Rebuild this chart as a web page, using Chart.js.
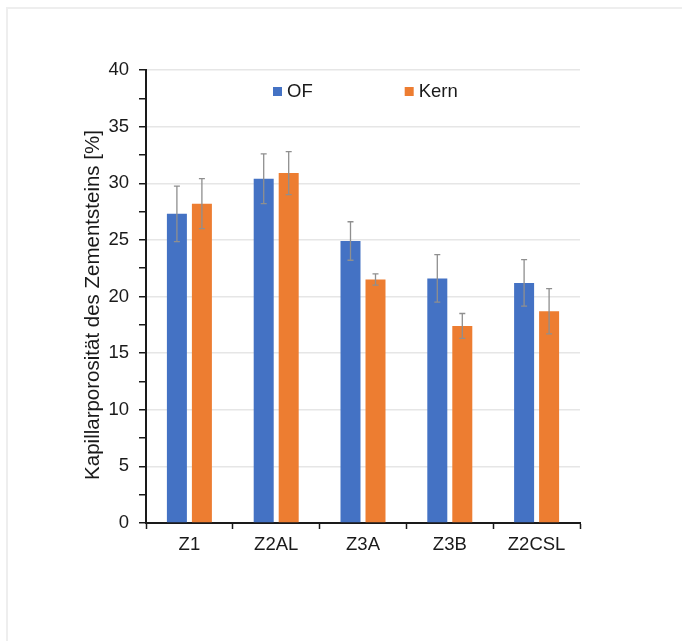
<!DOCTYPE html>
<html>
<head>
<meta charset="utf-8">
<script src="https://cdn.jsdelivr.net/npm/chart.js@4/dist/chart.umd.min.js"></script>
<style>
  html, body { margin: 0; padding: 0; background: #fff; overflow: hidden; }
  #frame { position: absolute; left: 6px; top: 7px; width: 720px; height: 700px;
           border-left: 2px solid #eeeeee; border-top: 2px solid #eeeeee; }
  #c { position: absolute; left: 0; top: 0; }
</style>
</head>
<body>
<div id="frame"></div>
<canvas id="c" width="682" height="641"></canvas>
<script>
const categories = ['Z1', 'Z2AL', 'Z3A', 'Z3B', 'Z2CSL'];
const seriesNames = ['OF', 'Kern'];
const valuesOF   = [27.3, 30.4, 24.9, 21.6, 21.2];
const errorsOF   = [2.45, 2.2, 1.7, 2.1, 2.05];
const valuesKern = [28.2, 30.9, 21.5, 17.4, 18.7];
const errorsKern = [2.2, 1.9, 0.5, 1.1, 2.0];
const yTitle = 'Kapillarporosität des Zementsteins [%]';
const yMin = 0, yMax = 40, yMinorStep = 2.5, yLabelStep = 5;

const FONT = "'Liberation Sans', Arial, sans-serif";

const errorBarPlugin = {
  id: 'errorBars',
  afterDatasetsDraw(chart) {
    const ctx = chart.ctx;
    const yScale = chart.scales.y;
    chart.data.datasets.forEach((ds, di) => {
      const meta = chart.getDatasetMeta(di);
      meta.data.forEach((bar, i) => {
        const v = ds.data[i], e = ds.errors[i];
        const yt = yScale.getPixelForValue(v + e);
        const yb = yScale.getPixelForValue(v - e);
        ctx.save();
        ctx.strokeStyle = '#8f8f8f';
        ctx.lineWidth = 1.3;
        ctx.beginPath();
        ctx.moveTo(bar.x, yt); ctx.lineTo(bar.x, yb);
        ctx.moveTo(bar.x - 3, yt); ctx.lineTo(bar.x + 3, yt);
        ctx.moveTo(bar.x - 3, yb); ctx.lineTo(bar.x + 3, yb);
        ctx.stroke();
        ctx.restore();
      });
    });
  }
};

const legendPlugin = {
  id: 'innerLegend',
  afterDraw(chart) {
    const ctx = chart.ctx;
    const area = chart.chartArea;
    let x = area.left + 127;
    const y = area.top + 21.5;
    ctx.save();
    ctx.font = '18.5px ' + FONT;
    ctx.textBaseline = 'middle';
    ctx.textAlign = 'left';
    chart.data.datasets.forEach((ds) => {
      ctx.fillStyle = ds.backgroundColor;
      ctx.fillRect(x, y - 4.5, 9, 9);
      ctx.fillStyle = '#1a1a1a';
      ctx.fillText(ds.label, x + 14, y + 0.5);
      x += 14 + ctx.measureText(ds.label).width + 92;
    });
    ctx.restore();
  }
};

const yTitlePlugin = {
  id: 'yTitle',
  afterDraw(chart) {
    const ctx = chart.ctx;
    const area = chart.chartArea;
    ctx.save();
    ctx.translate(93, (area.top + area.bottom) / 2 + 8.5);
    ctx.rotate(-Math.PI / 2);
    ctx.font = '20.5px ' + FONT;
    ctx.fillStyle = '#1a1a1a';
    ctx.textAlign = 'center';
    ctx.textBaseline = 'middle';
    ctx.fillText(yTitle, 0, 0);
    ctx.restore();
  }
};

new Chart(document.getElementById('c'), {
  type: 'bar',
  data: {
    labels: categories,
    datasets: [
      { label: seriesNames[0], data: valuesOF, errors: errorsOF, backgroundColor: '#4472C4',
        categoryPercentage: 0.576, barPercentage: 0.8 },
      { label: seriesNames[1], data: valuesKern, errors: errorsKern, backgroundColor: '#ED7D31',
        categoryPercentage: 0.576, barPercentage: 0.8 }
    ]
  },
  options: {
    responsive: false,
    animation: false,
    devicePixelRatio: 1,
    layout: { padding: { left: 0, top: 70, right: 102, bottom: 0 } },
    plugins: { legend: { display: false }, tooltip: { enabled: false } },
    scales: {
      x: {
        afterFit(s) { s.height = 118; },
        grid: { offset: true, drawOnChartArea: false, tickColor: '#1a1a1a', tickLength: 6, tickWidth: 1.5 },
        border: { color: '#1a1a1a', width: 2 },
        ticks: { color: '#1a1a1a', padding: 5, font: { family: FONT, size: 18.5 } }
      },
      y: {
        min: yMin, max: yMax,
        afterFit(s) { s.width = 146; },
        ticks: {
          stepSize: yMinorStep,
          color: '#1a1a1a',
          padding: 10,
          font: { family: FONT, size: 18.5 },
          callback: (v) => (Math.abs(v % yLabelStep) < 1e-9 ? v : '')
        },
        grid: {
          color: (c) => (c.tick && Math.abs(c.tick.value % yLabelStep) < 1e-9 && c.tick.value !== 0 ? '#e6e6e6' : 'rgba(0,0,0,0)'),
          lineWidth: 1.5,
          tickColor: '#1a1a1a',
          tickLength: 7,
          tickWidth: 1.5
        },
        border: { color: '#1a1a1a', width: 2 },
        title: { display: false }
      }
    }
  },
  plugins: [errorBarPlugin, legendPlugin, yTitlePlugin]
});
</script>
</body>
</html>
